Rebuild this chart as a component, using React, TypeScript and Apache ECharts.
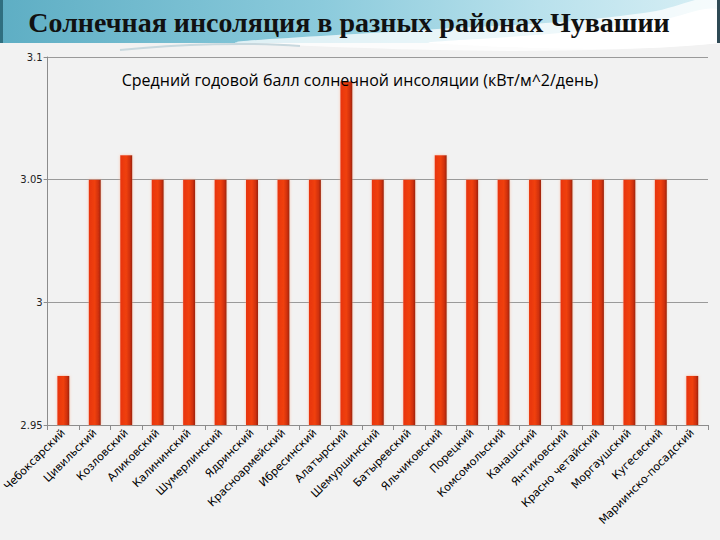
import React, { useEffect, useRef } from "react";
import * as echarts from "echarts";

const districts = [
  "Чебоксарский", "Цивильский", "Козловский", "Аликовский", "Калининский",
  "Шумерлинский", "Ядринский", "Красноармейский", "Ибресинский", "Алатырский",
  "Шемуршинский", "Батыревский", "Яльчиковский", "Порецкий", "Комсомольский",
  "Канашский", "Янтиковский", "Красно четайский", "Моргаушский", "Кугесвский",
  "Мариинско-посадский",
];
const insolation = [
  2.97, 3.05, 3.06, 3.05, 3.05,
  3.05, 3.05, 3.05, 3.05, 3.09,
  3.05, 3.05, 3.06, 3.05, 3.05,
  3.05, 3.05, 3.05, 3.05, 3.05,
  2.97,
];
const yMin = 2.95;
const yMax = 3.1;
const yStep = 0.05;
const mainTitle = "Солнечная инсоляция в разных районах Чувашии";
const chartTitle = "Средний годовой балл солнечной инсоляции (кВт/м^2/день)";

export default function App() {
  const ref = useRef<HTMLDivElement>(null);
  useEffect(() => {
    if (!ref.current) return;
    const chart = echarts.init(ref.current, null, { renderer: "svg" });
    chart.setOption({
      animation: false,
      backgroundColor: "#f2f2f2",
      graphic: [
        {
          type: "rect",
          shape: { x: 0, y: 0, width: 720, height: 43 },
          style: {
            fill: new echarts.graphic.LinearGradient(0, 0, 1, 0, [
              { offset: 0, color: "#5eaec4" },
              { offset: 0.45, color: "#8ccbdc" },
              { offset: 0.75, color: "#b9e1ec" },
              { offset: 1, color: "#d8eff5" },
            ]),
          },
          z: 0,
        },
        {
          type: "polygon",
          shape: {
            points: [[240, 43], [420, 30], [560, 22], [650, 12], [720, 0], [720, 43]],
            smooth: 0.4,
          },
          style: { fill: "rgba(255,255,255,0.75)" },
          z: 1,
        },
        {
          type: "polygon",
          shape: {
            points: [[430, 43], [560, 33], [660, 20], [720, 10], [720, 43]],
            smooth: 0.4,
          },
          style: { fill: "#ffffff" },
          z: 1,
        },
        {
          type: "bezierCurve",
          shape: { x1: 120, y1: 50, x2: 300, y2: 46, cpx1: 180, cpy1: 44, cpx2: 250, cpy2: 42 },
          style: { stroke: "#c8d8de", lineWidth: 2, fill: "none" },
          z: 1,
        },
        {
          type: "rect",
          shape: { x: 0, y: 0, width: 3, height: 43 },
          style: { fill: "#2f6f80" },
          z: 2,
        },
        {
          type: "rect",
          shape: { x: 717, y: 0, width: 3, height: 43 },
          style: { fill: "#2f4a55" },
          z: 2,
        },
        {
          type: "text",
          x: 349,
          y: 22,
          style: {
            text: mainTitle,
            font: "bold 28px 'Liberation Serif', 'DejaVu Serif', serif",
            fill: "#111",
            align: "center",
            verticalAlign: "middle",
          },
          z: 3,
        },
      ],
      title: {
        text: chartTitle,
        left: "center",
        top: 67,
        textStyle: {
          fontFamily: "'Open Sans', 'Noto Sans', sans-serif",
          fontSize: 16,
          fontWeight: "normal",
          color: "#000",
        },
      },
      grid: { left: 43, right: 12, top: 57, bottom: 115, containLabel: false },
      xAxis: {
        type: "category",
        data: districts,
        axisLine: { lineStyle: { color: "#8c8c8c" } },
        axisTick: { show: true, alignWithLabel: false, length: 5, lineStyle: { color: "#8c8c8c" } },
        axisLabel: {
          interval: 0,
          rotate: 45,
          margin: 6,
          fontFamily: "'DejaVu Sans', Verdana, sans-serif",
          fontSize: 11,
          color: "#000",
        },
      },
      yAxis: {
        type: "value",
        min: yMin,
        max: yMax,
        interval: yStep,
        axisLine: { show: true, lineStyle: { color: "#8c8c8c" } },
        axisTick: { show: true, length: 4, lineStyle: { color: "#8c8c8c" } },
        splitLine: { show: true, lineStyle: { color: "#9a9a9a", width: 1 } },
        axisLabel: {
          margin: 5,
          fontFamily: "'DejaVu Sans', Verdana, sans-serif",
          fontSize: 10,
          color: "#222",
          formatter: (v: number) => String(Number(v.toFixed(2))),
        },
      },
      series: [
        {
          type: "bar",
          data: insolation,
          barWidth: 12,
          itemStyle: {
            color: new echarts.graphic.LinearGradient(0, 0, 1, 0, [
              { offset: 0, color: "#e8340a" },
              { offset: 0.5, color: "#f0400e" },
              { offset: 0.8, color: "#d0300a" },
              { offset: 1, color: "#9a2408" },
            ]),
            shadowColor: "rgba(255,160,120,0.6)",
            shadowBlur: 3,
          },
        },
      ],
    });
    return () => chart.dispose();
  }, []);
  return (
    <div
      ref={ref}
      style={{ position: "absolute", left: 0, top: 0, width: 720, height: 540 }}
    />
  );
}
